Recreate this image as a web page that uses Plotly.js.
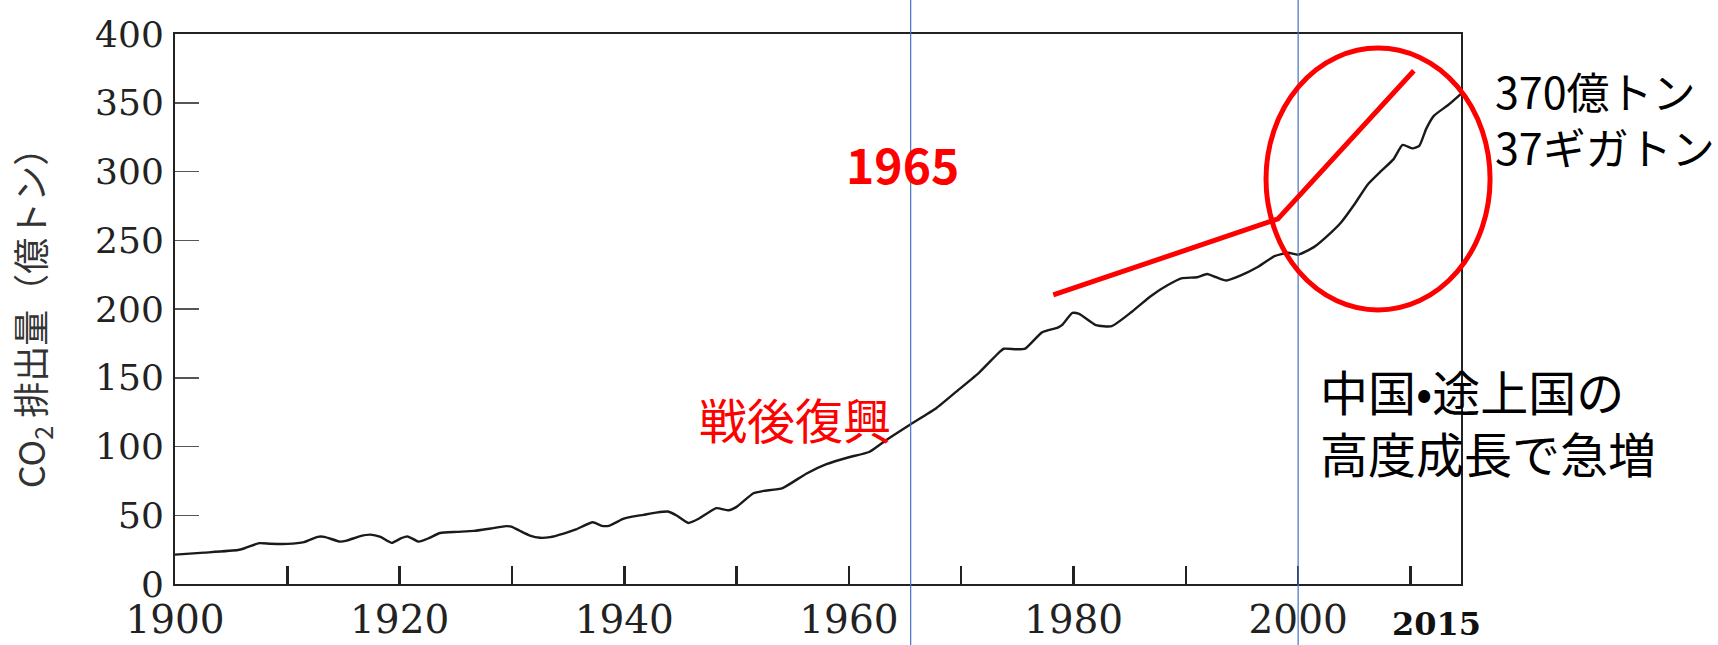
<!DOCTYPE html>
<html>
<head>
<meta charset="utf-8">
<script src="https://cdn.plot.ly/plotly-3.0.1.min.js"></script>
<style>
  html, body { margin: 0; padding: 0; background: #ffffff; }
  #chart { width: 1718px; height: 645px; }
</style>
</head>
<body>
<div id="chart"></div>
<script>
// ---- data ----
const years = [1900, 1902.6, 1905.6, 1906.2, 1907.5, 1908.5, 1910, 1911.5, 1912.7, 1913.3,
  1914.7, 1915.3, 1916.5, 1917.4, 1918.3, 1919.3, 1920.1, 1920.7, 1921.7, 1922.6,
  1923.6, 1925.1, 1926.6, 1928.1, 1929.5, 1930, 1930.7, 1931.6, 1932.5, 1933.4,
  1934.6, 1935.7, 1937.2, 1938, 1938.7, 1939.9, 1940.6, 1941.7, 1942.8, 1943.9,
  1944.7, 1945.7, 1946.7, 1948.2, 1949.3, 1950, 1951.5, 1952.4, 1954.1, 1956.2,
  1958, 1960, 1961.8, 1963.3, 1965.4, 1967.8, 1969.8, 1971.6, 1973.4, 1973.8,
  1974.9, 1975.7, 1977.2, 1978.6, 1979, 1979.9, 1980.5, 1982, 1983.4, 1985.2,
  1986.9, 1988.4, 1989.6, 1991, 1991.9, 1992.7, 1993.6, 1994.9, 1996.4, 1997.9,
  1999.1, 2000, 2001.4, 2002.9, 2003.8, 2005, 2006.2, 2007.4, 2008.5, 2009.3,
  2010.2, 2010.8, 2011.4, 2012.1, 2013.3, 2014.5];
const co2 = [21.4, 22.8, 24.7, 26, 29.7, 29.3, 29.2, 30.5, 34.3, 34.3,
  30.8, 31.6, 34.8, 35.9, 34.2, 29.9, 33.1, 34.6, 30.8, 33.3,
  37.1, 37.9, 38.6, 40.4, 42.1, 41.6, 38.7, 35.2, 33.6, 34.1,
  36.7, 39.7, 44.9, 42.3, 42.5, 47.3, 48.8, 50.3, 51.9, 52.7,
  49.6, 44.4, 47.8, 55.2, 53.6, 56.1, 66, 67.7, 69.8, 80.2,
  87.1, 92.2, 96, 104.6, 115.7, 128, 141.5, 153.8, 168.7, 171.1,
  170.7, 171.2, 183, 186.5, 188.5, 197.1, 196.4, 188.2, 187.5, 198,
  209.5, 217.4, 222.3, 223.1, 225.5, 223.1, 220.7, 224.4, 230.5, 238.5,
  240.9, 239.5, 245, 255.4, 262.7, 276, 290.6, 300.4, 309, 319.4,
  316.8, 318.8, 331, 340.6, 348, 356.5];

const xMajorTicks = [1900, 1920, 1940, 1960, 1980, 2000];
const xTickText = ['1900', '1920', '1940', '1960', '1980', '2000'];
const xMinorTicks = [1910, 1930, 1950, 1970, 1990, 2010];
const yTickVals = [0, 50, 100, 150, 200, 250, 300, 350, 400];
const yTickText = ['0', '50', '100', '150', '200', '250', '300', '350', '400'];

const markYears = [1965.5, 2000];             // blue guide lines
const trendYears = [1978.2, 1998.2, 2010.3];  // red hand-drawn trend line
const trendVals = [210.2, 265.5, 373.3];

// ---- chart ----
const serif = 'DejaVu Serif, Liberation Serif, serif';
const jp = 'Noto Sans CJK JP, Noto Sans, sans-serif';

const trace = {
  x: years, y: co2, type: 'scatter', mode: 'lines',
  line: { color: '#1a1a1a', width: 2.4, shape: 'spline', smoothing: 0.5 },
  hoverinfo: 'x+y'
};

const shapes = [];
markYears.forEach(function (yr) {
  shapes.push({ type: 'line', xref: 'x', yref: 'paper', x0: yr, x1: yr, y0: -0.12, y1: 1.08,
    line: { color: '#4472C4', width: 1.2 }, layer: 'above' });
});
let path = '';
trendYears.forEach(function (yr, i) { path += (i === 0 ? 'M ' : ' L ') + yr + ',' + trendVals[i]; });
shapes.push({ type: 'path', xref: 'x', yref: 'y', path: path,
  line: { color: '#ff0000', width: 5 }, layer: 'above' });
shapes.push({ type: 'circle', xref: 'paper', yref: 'paper',
  x0: 0.8484, x1: 1.0226, y0: 0.4982, y1: 0.9745,
  line: { color: '#ff0000', width: 5 }, layer: 'above' });

const annotations = [
  { text: '1965', xref: 'x', yref: 'y', x: 1964.8, y: 306.5, showarrow: false,
    xanchor: 'center', yanchor: 'middle',
    font: { family: jp, size: 48, color: '#ff0000', weight: 700 } },
  { text: '戦後復興', xref: 'x', yref: 'y', x: 1955.2, y: 120.4, showarrow: false,
    xanchor: 'center', yanchor: 'middle',
    font: { family: jp, size: 48, color: '#ff0000' } },
  { text: '370億トン<br>37ギガトン', xref: 'paper', yref: 'paper', x: 1.0249, y: 0.8473,
    showarrow: false, xanchor: 'left', yanchor: 'middle', align: 'left',
    font: { family: jp, size: 43, color: '#000000' } },
  { text: '中国•途上国の<br>高度成長で急増', xref: 'paper', yref: 'paper', x: 0.8888, y: 0.2955,
    showarrow: false, xanchor: 'left', yanchor: 'middle', align: 'left',
    font: { family: jp, size: 48, color: '#000000' } },
  { text: '2015', xref: 'paper', yref: 'paper', x: 0.9813, y: -0.0727,
    showarrow: false, xanchor: 'center', yanchor: 'middle',
    font: { family: serif, size: 32, color: '#111111', weight: 700 } }
];

const layout = {
  width: 1718, height: 645,
  margin: { l: 175, r: 257, t: 34, b: 61, pad: 0 },
  paper_bgcolor: '#ffffff', plot_bgcolor: '#ffffff',
  showlegend: false,
  xaxis: {
    range: [1900, 2014.5], tickmode: 'array', tickvals: xMajorTicks, ticktext: xTickText,
    ticks: 'inside', ticklen: 18, tickwidth: 2.5, tickcolor: '#222222',
    minor: { tickmode: 'array', tickvals: xMinorTicks, ticks: 'inside', ticklen: 18,
      tickwidth: 2.5, tickcolor: '#222222', showgrid: false },
    showline: true, mirror: true, linecolor: '#222222', linewidth: 2,
    showgrid: false, zeroline: false,
    tickfont: { family: serif, size: 39, color: '#222222' },
    ticklabelstandoff: 0
  },
  yaxis: {
    range: [0, 400], tickmode: 'array', tickvals: yTickVals, ticktext: yTickText,
    ticks: 'inside', ticklen: 24, tickwidth: 1.5, tickcolor: '#555555',
    showline: true, mirror: true, linecolor: '#222222', linewidth: 2,
    showgrid: false, zeroline: false,
    tickfont: { family: serif, size: 36, color: '#222222' },
    ticklabelstandoff: 2,
    title: { text: 'CO<sub>2</sub> 排出量（億トン）', standoff: 38,
      font: { family: jp, size: 36, color: '#333333' } }
  },
  shapes: shapes,
  annotations: annotations
};

Plotly.newPlot('chart', [trace], layout, { staticPlot: true, displayModeBar: false });
</script>
</body>
</html>
